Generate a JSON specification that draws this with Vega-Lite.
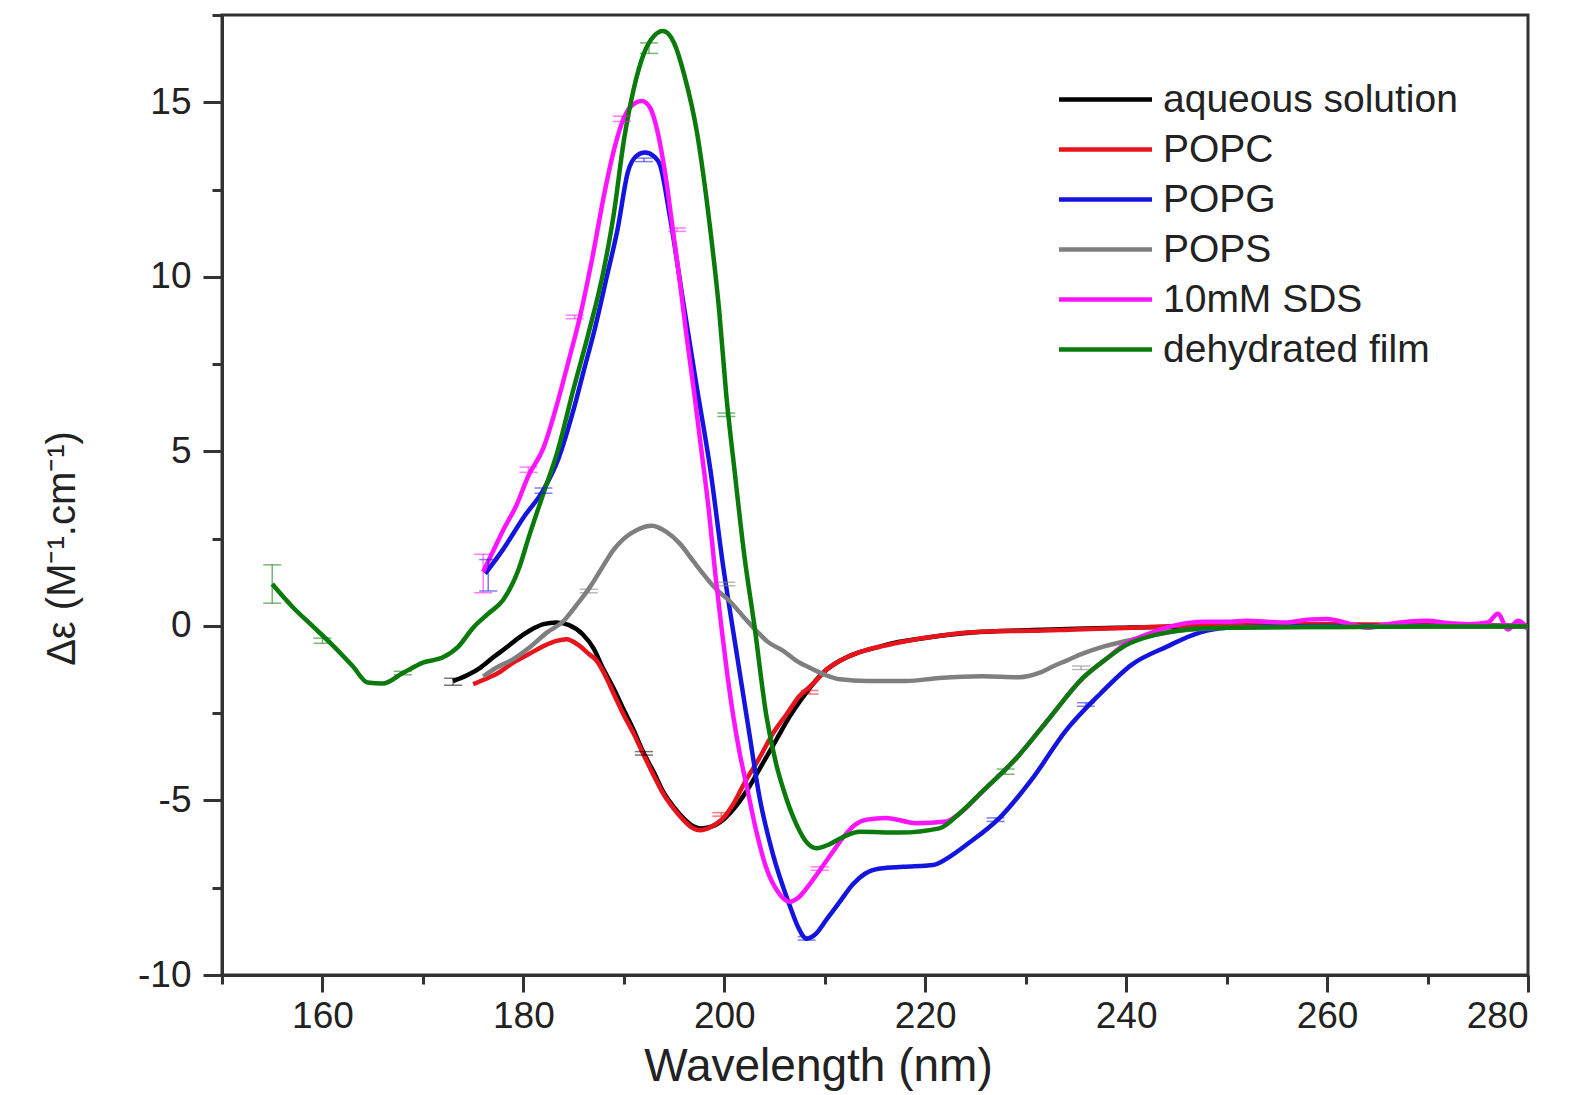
{
  "$schema": "https://vega.github.io/schema/vega-lite/v6.json",
  "width": 1306,
  "height": 960,
  "autosize": {"type": "none"},
  "padding": {"left": 222, "top": 15, "right": 44, "bottom": 120},
  "background": "white",
  "config": {
    "view": {"stroke": "#333", "strokeWidth": 3},
    "font": "Liberation Sans",
    "axis": {"grid": false, "domainColor": "#333", "domainWidth": 3, "tickColor": "#333", "tickWidth": 3, "labelColor": "#222", "labelFont": "Liberation Sans", "titleFont": "Liberation Sans", "titleColor": "#222", "titleFontWeight": "normal"},
    "legend": {"title": null, "orient": "none", "legendX": 864, "legendY": 65, "symbolType": "M-3,0H3", "symbolSize": 961, "symbolStrokeWidth": 4.5, "symbolOpacity": 1, "labelFontSize": 39, "labelOffset": 38, "labelLimit": 0, "rowPadding": 10, "padding": 0, "labelColor": "#222", "labelFont": "Liberation Sans"}
  },
  "datasets": {
    "curves": [
      {"s":"aqueous solution","x":173,"y":-1.58},{"s":"aqueous solution","x":174.5,"y":-1.4},{"s":"aqueous solution","x":175.7,"y":-1.2},{"s":"aqueous solution","x":177,"y":-0.9},{"s":"aqueous solution","x":178.3,"y":-0.62},{"s":"aqueous solution","x":179.5,"y":-0.35},{"s":"aqueous solution","x":180.6,"y":-0.14},{"s":"aqueous solution","x":182,"y":0.05},{"s":"aqueous solution","x":183.3,"y":0.1},{"s":"aqueous solution","x":184.5,"y":0.03},{"s":"aqueous solution","x":185.9,"y":-0.24},{"s":"aqueous solution","x":187,"y":-0.65},{"s":"aqueous solution","x":187.9,"y":-1.2},{"s":"aqueous solution","x":189,"y":-1.8},{"s":"aqueous solution","x":189.9,"y":-2.35},{"s":"aqueous solution","x":191,"y":-3.0},{"s":"aqueous solution","x":191.9,"y":-3.6},{"s":"aqueous solution","x":193,"y":-4.2},{"s":"aqueous solution","x":193.9,"y":-4.74},{"s":"aqueous solution","x":195,"y":-5.2},{"s":"aqueous solution","x":195.9,"y":-5.5},{"s":"aqueous solution","x":196.8,"y":-5.72},{"s":"aqueous solution","x":197.6,"y":-5.8},{"s":"aqueous solution","x":198.7,"y":-5.75},{"s":"aqueous solution","x":199.9,"y":-5.55},{"s":"aqueous solution","x":201.2,"y":-5.15},{"s":"aqueous solution","x":202.5,"y":-4.6},{"s":"aqueous solution","x":203.8,"y":-3.95},{"s":"aqueous solution","x":205.2,"y":-3.25},{"s":"aqueous solution","x":206.5,"y":-2.6},{"s":"aqueous solution","x":207.8,"y":-2.05},{"s":"aqueous solution","x":208.8,"y":-1.67},{"s":"aqueous solution","x":210,"y":-1.3},{"s":"aqueous solution","x":211.5,"y":-1.0},{"s":"aqueous solution","x":213,"y":-0.8},{"s":"aqueous solution","x":215.1,"y":-0.62},{"s":"aqueous solution","x":217,"y":-0.48},{"s":"aqueous solution","x":219.1,"y":-0.38},{"s":"aqueous solution","x":221.5,"y":-0.28},{"s":"aqueous solution","x":224.1,"y":-0.2},{"s":"aqueous solution","x":227,"y":-0.15},{"s":"aqueous solution","x":230.7,"y":-0.12},{"s":"aqueous solution","x":235,"y":-0.08},{"s":"aqueous solution","x":240,"y":-0.05},{"s":"aqueous solution","x":245,"y":-0.03},{"s":"aqueous solution","x":250,"y":-0.02},{"s":"aqueous solution","x":260,"y":0},{"s":"aqueous solution","x":270,"y":0},{"s":"aqueous solution","x":280,"y":0},
      {"s":"POPC","x":175,"y":-1.67},{"s":"POPC","x":176,"y":-1.55},{"s":"POPC","x":177.3,"y":-1.38},{"s":"POPC","x":179,"y":-1.05},{"s":"POPC","x":180.6,"y":-0.8},{"s":"POPC","x":182,"y":-0.58},{"s":"POPC","x":183.3,"y":-0.43},{"s":"POPC","x":184.3,"y":-0.38},{"s":"POPC","x":185.5,"y":-0.55},{"s":"POPC","x":186.5,"y":-0.8},{"s":"POPC","x":187.3,"y":-1.0},{"s":"POPC","x":188.2,"y":-1.45},{"s":"POPC","x":189,"y":-1.95},{"s":"POPC","x":189.9,"y":-2.5},{"s":"POPC","x":191,"y":-3.1},{"s":"POPC","x":191.9,"y":-3.65},{"s":"POPC","x":193,"y":-4.3},{"s":"POPC","x":193.9,"y":-4.8},{"s":"POPC","x":195,"y":-5.25},{"s":"POPC","x":195.9,"y":-5.55},{"s":"POPC","x":196.8,"y":-5.78},{"s":"POPC","x":197.6,"y":-5.85},{"s":"POPC","x":198.7,"y":-5.75},{"s":"POPC","x":199.9,"y":-5.5},{"s":"POPC","x":200.9,"y":-5.1},{"s":"POPC","x":202,"y":-4.5},{"s":"POPC","x":203.5,"y":-3.78},{"s":"POPC","x":204.8,"y":-3.1},{"s":"POPC","x":206.2,"y":-2.53},{"s":"POPC","x":207.5,"y":-2.0},{"s":"POPC","x":208.8,"y":-1.67},{"s":"POPC","x":210,"y":-1.3},{"s":"POPC","x":211.5,"y":-1.0},{"s":"POPC","x":213,"y":-0.8},{"s":"POPC","x":215.1,"y":-0.62},{"s":"POPC","x":217,"y":-0.5},{"s":"POPC","x":219.1,"y":-0.38},{"s":"POPC","x":221.5,"y":-0.28},{"s":"POPC","x":224.1,"y":-0.19},{"s":"POPC","x":227,"y":-0.15},{"s":"POPC","x":230.7,"y":-0.14},{"s":"POPC","x":235,"y":-0.1},{"s":"POPC","x":240,"y":-0.06},{"s":"POPC","x":245,"y":0.0},{"s":"POPC","x":250,"y":0.05},{"s":"POPC","x":255,"y":0.05},{"s":"POPC","x":260,"y":0.05},{"s":"POPC","x":270,"y":0.03},{"s":"POPC","x":280,"y":0},
      {"s":"POPG","x":176.2,"y":1.5},{"s":"POPG","x":178,"y":2.2},{"s":"POPG","x":180,"y":3.1},{"s":"POPG","x":182,"y":3.9},{"s":"POPG","x":183.5,"y":4.8},{"s":"POPG","x":185,"y":6.2},{"s":"POPG","x":186,"y":7.3},{"s":"POPG","x":187.1,"y":8.5},{"s":"POPG","x":188.3,"y":10.0},{"s":"POPG","x":189.4,"y":11.4},{"s":"POPG","x":190.4,"y":13.0},{"s":"POPG","x":191.2,"y":13.45},{"s":"POPG","x":192.1,"y":13.56},{"s":"POPG","x":193,"y":13.45},{"s":"POPG","x":193.6,"y":13.2},{"s":"POPG","x":194.6,"y":11.7},{"s":"POPG","x":195.9,"y":9.3},{"s":"POPG","x":197.2,"y":6.95},{"s":"POPG","x":198.6,"y":4.5},{"s":"POPG","x":199.9,"y":1.68},{"s":"POPG","x":200.8,"y":0},{"s":"POPG","x":202.5,"y":-3.1},{"s":"POPG","x":203.5,"y":-4.9},{"s":"POPG","x":204.8,"y":-6.5},{"s":"POPG","x":206.5,"y":-8.0},{"s":"POPG","x":207.3,"y":-8.6},{"s":"POPG","x":208.2,"y":-8.96},{"s":"POPG","x":209,"y":-8.85},{"s":"POPG","x":210.2,"y":-8.4},{"s":"POPG","x":211.5,"y":-7.9},{"s":"POPG","x":212.8,"y":-7.4},{"s":"POPG","x":214,"y":-7.1},{"s":"POPG","x":215.5,"y":-6.95},{"s":"POPG","x":217.8,"y":-6.9},{"s":"POPG","x":220.8,"y":-6.85},{"s":"POPG","x":222.5,"y":-6.6},{"s":"POPG","x":224.1,"y":-6.27},{"s":"POPG","x":227.4,"y":-5.5},{"s":"POPG","x":230.7,"y":-4.36},{"s":"POPG","x":234,"y":-3.0},{"s":"POPG","x":237.4,"y":-1.95},{"s":"POPG","x":240.6,"y":-1.1},{"s":"POPG","x":244,"y":-0.6},{"s":"POPG","x":247.3,"y":-0.19},{"s":"POPG","x":250,"y":-0.05},{"s":"POPG","x":260,"y":0},{"s":"POPG","x":270,"y":0},{"s":"POPG","x":280,"y":0},
      {"s":"POPS","x":176,"y":-1.45},{"s":"POPS","x":177.3,"y":-1.2},{"s":"POPS","x":179,"y":-0.95},{"s":"POPS","x":180.6,"y":-0.62},{"s":"POPS","x":182.3,"y":-0.2},{"s":"POPS","x":184,"y":0.14},{"s":"POPS","x":185.3,"y":0.6},{"s":"POPS","x":186.6,"y":1.1},{"s":"POPS","x":187.8,"y":1.65},{"s":"POPS","x":188.9,"y":2.15},{"s":"POPS","x":190,"y":2.5},{"s":"POPS","x":191.3,"y":2.75},{"s":"POPS","x":192.8,"y":2.87},{"s":"POPS","x":194.2,"y":2.7},{"s":"POPS","x":195.6,"y":2.35},{"s":"POPS","x":196.8,"y":1.9},{"s":"POPS","x":197.9,"y":1.49},{"s":"POPS","x":199.2,"y":1.05},{"s":"POPS","x":200.5,"y":0.72},{"s":"POPS","x":201.8,"y":0.3},{"s":"POPS","x":203.2,"y":-0.14},{"s":"POPS","x":204.3,"y":-0.45},{"s":"POPS","x":205.9,"y":-0.72},{"s":"POPS","x":207.2,"y":-1.0},{"s":"POPS","x":208.5,"y":-1.2},{"s":"POPS","x":210,"y":-1.4},{"s":"POPS","x":211.5,"y":-1.53},{"s":"POPS","x":214.2,"y":-1.58},{"s":"POPS","x":218.1,"y":-1.58},{"s":"POPS","x":221.4,"y":-1.49},{"s":"POPS","x":225.7,"y":-1.44},{"s":"POPS","x":229.4,"y":-1.47},{"s":"POPS","x":231.4,"y":-1.34},{"s":"POPS","x":232.8,"y":-1.15},{"s":"POPS","x":234,"y":-1.0},{"s":"POPS","x":235.6,"y":-0.8},{"s":"POPS","x":237.4,"y":-0.62},{"s":"POPS","x":240,"y":-0.43},{"s":"POPS","x":243,"y":-0.25},{"s":"POPS","x":246,"y":-0.12},{"s":"POPS","x":250,"y":-0.05},{"s":"POPS","x":260,"y":-0.03},{"s":"POPS","x":270,"y":-0.02},{"s":"POPS","x":280,"y":-0.02},
      {"s":"10mM SDS","x":176,"y":1.55},{"s":"10mM SDS","x":177,"y":2.15},{"s":"10mM SDS","x":178,"y":2.75},{"s":"10mM SDS","x":179.3,"y":3.45},{"s":"10mM SDS","x":180.5,"y":4.3},{"s":"10mM SDS","x":182,"y":5.1},{"s":"10mM SDS","x":183.3,"y":6.3},{"s":"10mM SDS","x":184.6,"y":7.7},{"s":"10mM SDS","x":185.5,"y":8.7},{"s":"10mM SDS","x":186.9,"y":10.6},{"s":"10mM SDS","x":188,"y":12.3},{"s":"10mM SDS","x":188.9,"y":13.5},{"s":"10mM SDS","x":189.8,"y":14.4},{"s":"10mM SDS","x":190.6,"y":14.85},{"s":"10mM SDS","x":191.8,"y":15.04},{"s":"10mM SDS","x":192.6,"y":14.85},{"s":"10mM SDS","x":193.4,"y":14.1},{"s":"10mM SDS","x":194.2,"y":12.8},{"s":"10mM SDS","x":194.9,"y":11.3},{"s":"10mM SDS","x":195.6,"y":9.8},{"s":"10mM SDS","x":196.2,"y":8.4},{"s":"10mM SDS","x":196.9,"y":6.9},{"s":"10mM SDS","x":197.6,"y":5.3},{"s":"10mM SDS","x":198.5,"y":3.2},{"s":"10mM SDS","x":199.1,"y":1.5},{"s":"10mM SDS","x":199.7,"y":0},{"s":"10mM SDS","x":200.3,"y":-1.4},{"s":"10mM SDS","x":200.9,"y":-2.6},{"s":"10mM SDS","x":201.5,"y":-3.6},{"s":"10mM SDS","x":202.2,"y":-4.55},{"s":"10mM SDS","x":203.2,"y":-5.9},{"s":"10mM SDS","x":204.2,"y":-6.95},{"s":"10mM SDS","x":205.3,"y":-7.6},{"s":"10mM SDS","x":206.5,"y":-7.9},{"s":"10mM SDS","x":207.5,"y":-7.75},{"s":"10mM SDS","x":208.5,"y":-7.4},{"s":"10mM SDS","x":209.5,"y":-7.0},{"s":"10mM SDS","x":210.8,"y":-6.47},{"s":"10mM SDS","x":212,"y":-6.0},{"s":"10mM SDS","x":213,"y":-5.7},{"s":"10mM SDS","x":214.2,"y":-5.55},{"s":"10mM SDS","x":216.1,"y":-5.5},{"s":"10mM SDS","x":219.1,"y":-5.65},{"s":"10mM SDS","x":222.1,"y":-5.6},{"s":"10mM SDS","x":223.5,"y":-5.35},{"s":"10mM SDS","x":225.7,"y":-4.74},{"s":"10mM SDS","x":229.1,"y":-3.78},{"s":"10mM SDS","x":232.4,"y":-2.63},{"s":"10mM SDS","x":235.7,"y":-1.49},{"s":"10mM SDS","x":238,"y":-0.95},{"s":"10mM SDS","x":240,"y":-0.5},{"s":"10mM SDS","x":242,"y":-0.25},{"s":"10mM SDS","x":244,"y":-0.05},{"s":"10mM SDS","x":246,"y":0.08},{"s":"10mM SDS","x":248,"y":0.12},{"s":"10mM SDS","x":250,"y":0.12},{"s":"10mM SDS","x":252,"y":0.15},{"s":"10mM SDS","x":254,"y":0.12},{"s":"10mM SDS","x":256,"y":0.1},{"s":"10mM SDS","x":258,"y":0.18},{"s":"10mM SDS","x":260,"y":0.2},{"s":"10mM SDS","x":262,"y":0.08},{"s":"10mM SDS","x":264,"y":-0.05},{"s":"10mM SDS","x":266,"y":0.05},{"s":"10mM SDS","x":268,"y":0.12},{"s":"10mM SDS","x":270,"y":0.15},{"s":"10mM SDS","x":272,"y":0.08},{"s":"10mM SDS","x":274,"y":0.05},{"s":"10mM SDS","x":276,"y":0.1},{"s":"10mM SDS","x":277,"y":0.35},{"s":"10mM SDS","x":278,"y":-0.1},{"s":"10mM SDS","x":279,"y":0.15},{"s":"10mM SDS","x":280,"y":-0.1},
      {"s":"dehydrated film","x":155,"y":1.2},{"s":"dehydrated film","x":157,"y":0.55},{"s":"dehydrated film","x":159,"y":0.0},{"s":"dehydrated film","x":161,"y":-0.55},{"s":"dehydrated film","x":163,"y":-1.15},{"s":"dehydrated film","x":164.5,"y":-1.62},{"s":"dehydrated film","x":166,"y":-1.65},{"s":"dehydrated film","x":168,"y":-1.35},{"s":"dehydrated film","x":170,"y":-1.05},{"s":"dehydrated film","x":172,"y":-0.9},{"s":"dehydrated film","x":173.5,"y":-0.6},{"s":"dehydrated film","x":175,"y":-0.05},{"s":"dehydrated film","x":176.5,"y":0.35},{"s":"dehydrated film","x":178,"y":0.75},{"s":"dehydrated film","x":179.5,"y":1.6},{"s":"dehydrated film","x":180.6,"y":2.6},{"s":"dehydrated film","x":182,"y":3.8},{"s":"dehydrated film","x":183.4,"y":5.0},{"s":"dehydrated film","x":185,"y":6.8},{"s":"dehydrated film","x":186.5,"y":8.4},{"s":"dehydrated film","x":188,"y":10.2},{"s":"dehydrated film","x":189,"y":11.8},{"s":"dehydrated film","x":190,"y":13.9},{"s":"dehydrated film","x":191,"y":15.4},{"s":"dehydrated film","x":192,"y":16.4},{"s":"dehydrated film","x":193,"y":16.9},{"s":"dehydrated film","x":193.9,"y":17.04},{"s":"dehydrated film","x":195,"y":16.7},{"s":"dehydrated film","x":196,"y":15.8},{"s":"dehydrated film","x":197.3,"y":14.1},{"s":"dehydrated film","x":198.5,"y":11.6},{"s":"dehydrated film","x":199.5,"y":9.0},{"s":"dehydrated film","x":200.2,"y":6.6},{"s":"dehydrated film","x":201,"y":4.5},{"s":"dehydrated film","x":202,"y":2.0},{"s":"dehydrated film","x":203,"y":0},{"s":"dehydrated film","x":204.2,"y":-2.6},{"s":"dehydrated film","x":205.2,"y":-4.0},{"s":"dehydrated film","x":205.9,"y":-4.7},{"s":"dehydrated film","x":207.2,"y":-5.7},{"s":"dehydrated film","x":208.2,"y":-6.2},{"s":"dehydrated film","x":209.2,"y":-6.37},{"s":"dehydrated film","x":210.5,"y":-6.25},{"s":"dehydrated film","x":211.8,"y":-6.05},{"s":"dehydrated film","x":213.5,"y":-5.9},{"s":"dehydrated film","x":217.5,"y":-5.92},{"s":"dehydrated film","x":221.4,"y":-5.8},{"s":"dehydrated film","x":223.5,"y":-5.35},{"s":"dehydrated film","x":225.7,"y":-4.74},{"s":"dehydrated film","x":229.1,"y":-3.78},{"s":"dehydrated film","x":232.4,"y":-2.63},{"s":"dehydrated film","x":235.7,"y":-1.49},{"s":"dehydrated film","x":238,"y":-0.95},{"s":"dehydrated film","x":240,"y":-0.55},{"s":"dehydrated film","x":243,"y":-0.25},{"s":"dehydrated film","x":246,"y":-0.1},{"s":"dehydrated film","x":250,"y":-0.05},{"s":"dehydrated film","x":260,"y":-0.03},{"s":"dehydrated film","x":270,"y":-0.02},{"s":"dehydrated film","x":280,"y":-0.02}
    ],
    "err": [
      {"s":"dehydrated film","x":155,"lo":0.65,"hi":1.75},{"s":"dehydrated film","x":160,"lo":-0.5,"hi":-0.35},{"s":"dehydrated film","x":168,"lo":-1.4,"hi":-1.3},{"s":"dehydrated film","x":192.5,"lo":16.4,"hi":16.7},{"s":"dehydrated film","x":200.2,"lo":6.0,"hi":6.1},{"s":"dehydrated film","x":228,"lo":-4.25,"hi":-4.1},
      {"s":"10mM SDS","x":176,"lo":0.95,"hi":2.05},{"s":"10mM SDS","x":180.5,"lo":4.4,"hi":4.55},{"s":"10mM SDS","x":185.1,"lo":8.8,"hi":8.9},{"s":"10mM SDS","x":189.8,"lo":14.45,"hi":14.6},{"s":"10mM SDS","x":195.3,"lo":11.3,"hi":11.4},{"s":"10mM SDS","x":209.5,"lo":-7.0,"hi":-6.9},
      {"s":"POPG","x":176.5,"lo":1.0,"hi":1.9},{"s":"POPG","x":182,"lo":3.8,"hi":3.95},{"s":"POPG","x":192,"lo":13.3,"hi":13.4},{"s":"POPG","x":208.2,"lo":-9.0,"hi":-8.9},{"s":"POPG","x":227,"lo":-5.6,"hi":-5.5},{"s":"POPG","x":236,"lo":-2.3,"hi":-2.2},
      {"s":"aqueous solution","x":173,"lo":-1.7,"hi":-1.5},{"s":"aqueous solution","x":192,"lo":-3.7,"hi":-3.6},
      {"s":"POPC","x":199.7,"lo":-5.45,"hi":-5.35},{"s":"POPC","x":208.5,"lo":-1.95,"hi":-1.85},
      {"s":"POPS","x":186.5,"lo":0.95,"hi":1.05},{"s":"POPS","x":200.2,"lo":1.15,"hi":1.25},{"s":"POPS","x":235.5,"lo":-1.25,"hi":-1.15}
    ]
  },
  "resolve": {"axis": {"x": "independent", "y": "independent"}},
  "layer": [
    {
      "mark": {"type": "rule", "color": "#222", "strokeWidth": 2.5},
      "encoding": {
        "y": {"datum": 0, "type": "quantitative", "axis": null, "scale": {"domain": [-10, 17.5], "nice": false, "zero": false}}
      }
    },
    {
      "data": {"name": "curves"},
      "mark": {"type": "line", "strokeWidth": 4.5, "interpolate": "monotone", "clip": true},
      "encoding": {
        "x": {"field": "x", "type": "quantitative", "scale": {"domain": [150, 280], "nice": false, "zero": false},
          "axis": {"orient": "bottom", "values": [160, 180, 200, 220, 240, 260, 280], "tickSize": 17, "labelFontSize": 37, "labelPadding": 6, "title": "Wavelength (nm)", "titleFontSize": 46, "titleX": 596, "titleY": 105, "titleBaseline": "alphabetic", "titleAlign": "center"}},
        "y": {"field": "y", "type": "quantitative", "scale": {"domain": [-10, 17.5], "nice": false, "zero": false},
          "axis": {"orient": "left", "values": [-10, -5, 0, 5, 10, 15], "labelExpr": "replace(datum.label, '−', '-')", "tickSize": 19, "labelFontSize": 37, "labelPadding": 12, "title": "Δε (M⁻¹.cm⁻¹)", "titleFontSize": 40, "titleAngle": 270, "titleX": -160, "titleY": 533, "titleAlign": "center", "titleBaseline": "middle"}},
        "color": {"field": "s", "type": "nominal", "scale": {"domain": ["aqueous solution", "POPC", "POPG", "POPS", "10mM SDS", "dehydrated film"], "range": ["#000000", "#e8141c", "#1414e0", "#7f7f7f", "#ff14ff", "#0a7a0a"]}}
      }
    },
    {
      "data": {"name": "err"},
      "mark": {"type": "errorbar", "opacity": 0.55, "thickness": 1.5, "ticks": {"size": 18}},
      "encoding": {
        "x": {"field": "x", "type": "quantitative", "axis": null, "scale": {"domain": [150, 280], "nice": false, "zero": false}},
        "y": {"field": "lo", "type": "quantitative", "axis": null, "scale": {"domain": [-10, 17.5], "nice": false, "zero": false}},
        "y2": {"field": "hi"},
        "color": {"field": "s", "type": "nominal", "scale": {"domain": ["aqueous solution", "POPC", "POPG", "POPS", "10mM SDS", "dehydrated film"], "range": ["#000000", "#e8141c", "#1414e0", "#7f7f7f", "#ff14ff", "#0a7a0a"]}}
      }
    },
    {
      "data": {"name": "curves"},
      "mark": {"type": "point", "opacity": 0, "size": 1},
      "encoding": {
        "x": {"field": "x", "type": "quantitative", "scale": {"domain": [150, 280], "nice": false, "zero": false},
          "axis": {"orient": "bottom", "values": [150, 170, 190, 210, 230, 250, 270], "tickSize": 9, "labels": false, "domain": false, "title": null}},
        "y": {"field": "y", "type": "quantitative", "scale": {"domain": [-10, 17.5], "nice": false, "zero": false},
          "axis": {"orient": "left", "values": [-7.5, -2.5, 2.5, 7.5, 12.5, 17.5], "tickSize": 10, "labels": false, "domain": false, "title": null}}
      }
    },
    {
      "mark": {"type": "text", "fontSize": 70, "color": "#222", "align": "center", "baseline": "middle", "font": "Liberation Sans"},
      "encoding": {
        "x": {"datum": 263.7, "type": "quantitative", "axis": null, "scale": {"domain": [150, 280], "nice": false, "zero": false}},
        "y": {"datum": -6.55, "type": "quantitative", "axis": null, "scale": {"domain": [-10, 17.5], "nice": false, "zero": false}},
        "text": {"value": "a"}
      }
    }
  ]
}
